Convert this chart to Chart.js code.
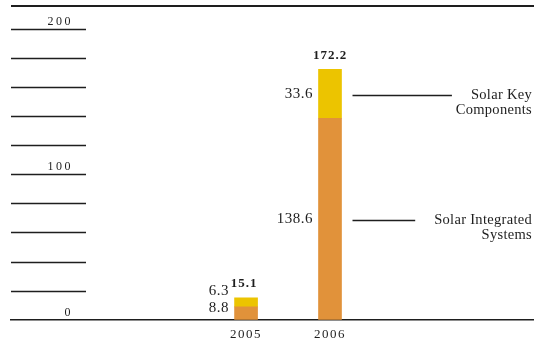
<!DOCTYPE html>
<html>
<head>
<meta charset="utf-8">
<script src="https://cdn.jsdelivr.net/npm/chart.js@4/dist/chart.umd.min.js"></script>
<style>
  html, body { margin: 0; padding: 0; background: #fff; }
  #wrap { width: 534px; height: 344px; position: relative; }
</style>
</head>
<body>
<div id="wrap"><canvas id="c"></canvas></div>
<script>
// Revenue by segment (stacked), per year
const years = [2005, 2006];
const integratedSystems = [8.8, 138.6];
const keyComponents = [6.3, 33.6];
const totals = [15.1, 172.2];
const seriesNames = [['Solar Integrated', 'Systems'], ['Solar Key', 'Components']];
const yTickLabels = [0, 100, 200];

const SERIF = '"Liberation Serif", "Times New Roman", serif';
const INK = '#1e1e1e';
const ORANGE = '#e1923a';
const YELLOW = '#ecc400';

function setFont(ctx, size, weight, spacing) {
  ctx.font = (weight || 'normal') + ' ' + size + 'px ' + SERIF;
  ctx.letterSpacing = (spacing || 0) + 'px';
}

// Slightly tracked lettering for the axis text drawn by the library
const trackingPlugin = {
  id: 'tracking',
  beforeDraw(chart) { chart.ctx.letterSpacing = '1.5px'; }
};

// Frame: top rule, short tick rules on the left, and the value scale labels
const framePlugin = {
  id: 'frame',
  afterDraw(chart) {
    const { ctx, chartArea } = chart;
    const y = chart.scales.y;
    ctx.save();
    ctx.strokeStyle = INK;
    // top rule
    ctx.lineWidth = 2;
    ctx.beginPath();
    ctx.moveTo(chartArea.left, chartArea.top - 23);
    ctx.lineTo(chartArea.right, chartArea.top - 23);
    ctx.stroke();
    // short rules at each tick above zero
    ctx.lineWidth = 1.4;
    y.ticks.forEach(t => {
      if (t.value <= 0) return;
      const py = Math.round(y.getPixelForValue(t.value)) + 0.5;
      ctx.beginPath();
      ctx.moveTo(chartArea.left, py);
      ctx.lineTo(chartArea.left + 75, py);
      ctx.stroke();
    });
    // scale labels sitting above their rules
    setFont(ctx, 12, 'normal', 2.5);
    ctx.fillStyle = INK;
    ctx.textAlign = 'right';
    ctx.textBaseline = 'alphabetic';
    yTickLabels.forEach(v => {
      const py = y.getPixelForValue(v);
      ctx.fillText(String(v), chartArea.left + 62, py - 4);
    });
    ctx.restore();
  }
};

// Segment values, bar totals and the series call-outs
const labelPlugin = {
  id: 'segLabels',
  afterDatasetsDraw(chart) {
    const { ctx } = chart;
    const intMeta = chart.getDatasetMeta(0).data;
    const keyMeta = chart.getDatasetMeta(1).data;
    const seriesVals = [integratedSystems, keyComponents];
    ctx.save();
    ctx.fillStyle = INK;
    years.forEach((yr, i) => {
      const bi = intMeta[i], bk = keyMeta[i];
      const left = bi.x - bi.width / 2 - 5.5;
      const yInt = Math.min((bi.y + bi.base) / 2, bi.base - 11.5);
      const yKey = Math.min((bk.y + bk.base) / 2, yInt - 17);
      setFont(ctx, 15, 'normal', 0.5);
      ctx.textAlign = 'right';
      ctx.textBaseline = 'middle';
      ctx.fillText(seriesVals[0][i].toFixed(1), left, yInt);
      ctx.fillText(seriesVals[1][i].toFixed(1), left, yKey);
      // total on top
      setFont(ctx, 13, 'bold', 1);
      ctx.textAlign = 'center';
      ctx.fillText(totals[i].toFixed(1), bk.x - (i === 0 ? 2 : 0), bk.y - 14);

      // call-outs for the last bar
      if (i === years.length - 1) {
        [yInt, yKey].forEach((ly, s) => {
          const lines = seriesNames[s];
          const textRight = chart.chartArea.right - 2;
          setFont(ctx, 14.5, 'normal', 0.3);
          ctx.textAlign = 'right';
          ctx.textBaseline = 'middle';
          lines.forEach((ln, k) => ctx.fillText(ln, textRight, ly + 1.5 + k * 15));
          const firstW = ctx.measureText(lines[0]).width;
          ctx.strokeStyle = INK;
          ctx.lineWidth = 1.4;
          const lyR = Math.round(ly + 1.5) + 0.5;
          ctx.beginPath();
          ctx.moveTo(bk.x + bk.width / 2 + 11, lyR);
          ctx.lineTo(textRight - firstW - 19, lyR);
          ctx.stroke();
        });
      }
    });
    ctx.restore();
  }
};

new Chart(document.getElementById('c'), {
  type: 'bar',
  data: {
    datasets: [
      {
        label: seriesNames[0].join(' '),
        data: years.map((x, i) => ({ x, y: integratedSystems[i] })),
        backgroundColor: ORANGE,
        stack: 'total',
        barThickness: 23
      },
      {
        label: seriesNames[1].join(' '),
        data: years.map((x, i) => ({ x, y: keyComponents[i] })),
        backgroundColor: YELLOW,
        stack: 'total',
        barThickness: 23
      }
    ]
  },
  options: {
    responsive: true,
    maintainAspectRatio: false,
    animation: false,
    events: [],
    layout: { padding: { left: 11, right: 0, top: 29, bottom: -5.3 } },
    plugins: { legend: { display: false }, tooltip: { enabled: false } },
    scales: {
      x: {
        type: 'linear',
        min: 2002.2,
        max: 2008.43,
        offset: false,
        afterBuildTicks: s => { s.ticks = years.map(v => ({ value: v })); },
        grid: { display: false, drawTicks: false },
        border: { display: true, color: INK, width: 1.5 },
        ticks: {
          padding: 7,
          color: INK,
          font: { family: SERIF, size: 13 },
          callback: v => String(v),
          autoSkip: false,
          maxRotation: 0
        }
      },
      y: {
        display: false,
        stacked: true,
        min: 0,
        max: 200,
        ticks: { stepSize: 20 }
      }
    }
  },
  plugins: [trackingPlugin, framePlugin, labelPlugin]
});
</script>
</body>
</html>
